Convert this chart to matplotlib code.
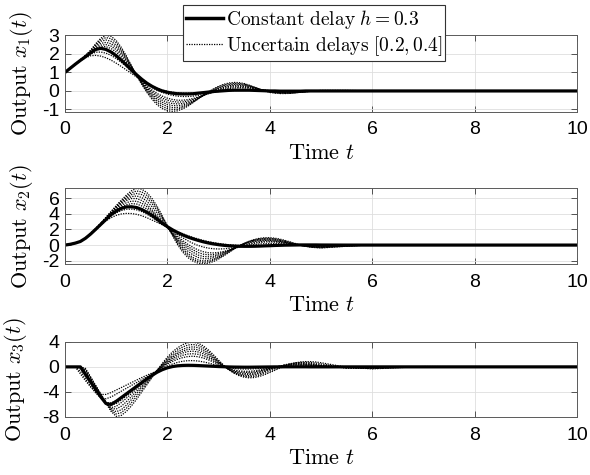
import matplotlib
matplotlib.use("Agg")
import matplotlib.pyplot as plt
from matplotlib.lines import Line2D

plt.rcParams['mathtext.fontset'] = 'cm'
plt.rcParams['axes.unicode_minus'] = False
plt.rcParams['font.family'] = ['Liberation Sans', 'DejaVu Sans']

# time grid (s)
t = [0.0, 0.1, 0.2, 0.3, 0.4, 0.5, 0.6, 0.7, 0.8, 0.9,
     1.0, 1.1, 1.2, 1.3, 1.4, 1.5, 1.6, 1.7, 1.8, 1.9,
     2.0, 2.1, 2.2, 2.3, 2.4, 2.5, 2.6, 2.7, 2.8, 2.9,
     3.0, 3.1, 3.2, 3.3, 3.4, 3.5, 3.6, 3.7, 3.8, 3.9,
     4.0, 4.1, 4.2, 4.3, 4.4, 4.5, 4.6, 4.7, 4.8, 4.9,
     5.0, 5.5, 6.0, 7.0, 10.0]

# ---------------- output x1 ----------------
x1_const = [1.0, 1.22, 1.44, 1.65, 1.85, 2.06, 2.24, 2.3, 2.24, 2.1,
            1.9, 1.66, 1.4, 1.13, 0.87, 0.63, 0.42, 0.25, 0.11, 0.0,
            -0.07, -0.12, -0.15, -0.16, -0.16, -0.15, -0.12, -0.09, -0.06, -0.03,
            -0.01, 0.01, 0.03, 0.04, 0.04, 0.04, 0.04, 0.03, 0.02, 0.01,
            0.0, 0.0, -0.01, -0.01, -0.01, -0.01, -0.01, 0.0, 0.0, 0.0,
            0.0, 0.0, 0.0, 0.0, 0.0]
x1_unc_a = [1.0, 1.22, 1.43, 1.62, 1.79, 1.9, 1.92, 1.88, 1.79, 1.66,
            1.5, 1.32, 1.13, 0.94, 0.75, 0.57, 0.41, 0.27, 0.15, 0.05,
            -0.02, -0.07, -0.1, -0.12, -0.12, -0.12, -0.1, -0.08, -0.06, -0.04,
            -0.02, 0.0, 0.01, 0.02, 0.03, 0.03, 0.03, 0.02, 0.02, 0.01,
            0.0, 0.0, -0.01, -0.01, -0.01, -0.01, -0.01, 0.0, 0.0, 0.0,
            0.0, 0.0, 0.0, 0.0, 0.0]
x1_unc_b = [1.0, 1.22, 1.43, 1.64, 1.83, 1.99, 2.09, 2.1, 2.04, 1.92,
            1.75, 1.54, 1.31, 1.04, 0.79, 0.56, 0.36, 0.18, 0.03, -0.08,
            -0.17, -0.24, -0.28, -0.3, -0.3, -0.28, -0.24, -0.19, -0.14, -0.08,
            -0.03, 0.02, 0.05, 0.08, 0.09, 0.1, 0.09, 0.08, 0.06, 0.04,
            0.02, 0.0, -0.01, -0.02, -0.03, -0.03, -0.03, -0.02, -0.02, -0.01,
            -0.01, 0.0, 0.0, 0.0, 0.0]
x1_unc_c = [1.0, 1.22, 1.44, 1.65, 1.85, 2.05, 2.22, 2.3, 2.27, 2.15,
            1.96, 1.72, 1.45, 1.15, 0.85, 0.55, 0.28, 0.05, -0.14, -0.28,
            -0.39, -0.46, -0.5, -0.5, -0.47, -0.41, -0.33, -0.24, -0.15, -0.06,
            0.02, 0.08, 0.13, 0.16, 0.18, 0.18, 0.16, 0.12, 0.08, 0.04,
            0.0, -0.03, -0.04, -0.05, -0.05, -0.05, -0.04, -0.03, -0.02, -0.01,
            0.0, 0.01, 0.0, 0.0, 0.0]
x1_unc_g = [1.0, 1.22, 1.44, 1.65, 1.86, 2.08, 2.28, 2.39, 2.39, 2.29,
            2.1, 1.84, 1.54, 1.2, 0.86, 0.52, 0.22, -0.03, -0.24, -0.39,
            -0.5, -0.57, -0.6, -0.59, -0.54, -0.46, -0.36, -0.24, -0.13, -0.03,
            0.06, 0.13, 0.18, 0.22, 0.22, 0.22, 0.18, 0.14, 0.08, 0.03,
            -0.02, -0.04, -0.06, -0.06, -0.06, -0.06, -0.04, -0.03, -0.02, 0.0,
            0.0, 0.01, 0.0, 0.0, 0.0]
x1_unc_d = [1.0, 1.22, 1.44, 1.66, 1.87, 2.1, 2.33, 2.47, 2.5, 2.42,
            2.23, 1.96, 1.62, 1.25, 0.87, 0.5, 0.17, -0.11, -0.33, -0.5,
            -0.62, -0.68, -0.7, -0.68, -0.61, -0.51, -0.39, -0.25, -0.12, 0.0,
            0.1, 0.18, 0.24, 0.27, 0.27, 0.25, 0.21, 0.15, 0.08, 0.02,
            -0.03, -0.06, -0.08, -0.08, -0.08, -0.07, -0.05, -0.03, -0.01, 0.0,
            0.01, 0.01, 0.0, 0.0, 0.0]
x1_unc_h = [1.0, 1.22, 1.44, 1.66, 1.88, 2.12, 2.39, 2.57, 2.62, 2.55,
            2.35, 2.05, 1.68, 1.27, 0.86, 0.46, 0.11, -0.19, -0.43, -0.61,
            -0.73, -0.79, -0.8, -0.76, -0.67, -0.55, -0.4, -0.25, -0.1, 0.03,
            0.14, 0.22, 0.28, 0.31, 0.31, 0.29, 0.24, 0.17, 0.09, 0.02,
            -0.04, -0.07, -0.09, -0.1, -0.1, -0.08, -0.06, -0.04, -0.02, 0.0,
            0.01, 0.01, 0.0, 0.0, 0.0]
x1_unc_e = [1.0, 1.22, 1.45, 1.67, 1.9, 2.15, 2.45, 2.68, 2.75, 2.68,
            2.47, 2.15, 1.75, 1.3, 0.85, 0.42, 0.05, -0.27, -0.53, -0.72,
            -0.84, -0.9, -0.9, -0.84, -0.73, -0.58, -0.41, -0.24, -0.08, 0.06,
            0.18, 0.27, 0.33, 0.36, 0.36, 0.33, 0.27, 0.19, 0.1, 0.02,
            -0.04, -0.08, -0.1, -0.11, -0.11, -0.09, -0.07, -0.04, -0.02, 0.0,
            0.02, 0.02, 0.0, 0.0, 0.0]
x1_unc_i = [1.0, 1.22, 1.45, 1.67, 1.91, 2.17, 2.5, 2.77, 2.88, 2.82,
            2.6, 2.25, 1.82, 1.33, 0.84, 0.39, -0.02, -0.36, -0.64, -0.84,
            -0.96, -1.0, -0.99, -0.9, -0.78, -0.6, -0.42, -0.24, -0.06, 0.08,
            0.22, 0.32, 0.38, 0.41, 0.4, 0.37, 0.29, 0.2, 0.1, 0.0,
            -0.06, -0.1, -0.12, -0.12, -0.12, -0.1, -0.07, -0.04, -0.02, 0.0,
            0.02, 0.02, 0.0, 0.0, 0.0]
x1_unc_f = [1.0, 1.22, 1.45, 1.68, 1.92, 2.2, 2.55, 2.85, 3.0, 2.95,
            2.72, 2.35, 1.88, 1.35, 0.82, 0.35, -0.08, -0.45, -0.75, -0.95,
            -1.07, -1.1, -1.07, -0.97, -0.82, -0.63, -0.43, -0.23, -0.05, 0.11,
            0.25, 0.36, 0.43, 0.46, 0.45, 0.4, 0.31, 0.2, 0.09, -0.01,
            -0.08, -0.12, -0.14, -0.14, -0.13, -0.1, -0.07, -0.04, -0.01, 0.01,
            0.03, 0.03, 0.0, 0.0, 0.0]

# ---------------- output x2 ----------------
x2_const = [0.0, 0.1, 0.25, 0.46, 0.87, 1.41, 2.02, 2.65, 3.28, 3.9,
            4.35, 4.7, 4.88, 4.9, 4.8, 4.55, 4.2, 3.8, 3.3, 2.8,
            2.35, 1.95, 1.6, 1.3, 1.03, 0.8, 0.6, 0.42, 0.27, 0.15,
            0.05, -0.03, -0.09, -0.13, -0.15, -0.16, -0.16, -0.15, -0.13, -0.1,
            -0.08, -0.05, -0.03, -0.01, 0.0, 0.01, 0.02, 0.02, 0.02, 0.02,
            0.01, 0.0, 0.0, 0.0, 0.0]
x2_unc_a = [0.0, 0.1, 0.24, 0.44, 0.85, 1.38, 1.95, 2.55, 3.1, 3.5,
            3.8, 3.98, 4.05, 4.03, 3.93, 3.75, 3.5, 3.2, 2.9, 2.6,
            2.3, 2.0, 1.72, 1.45, 1.2, 0.98, 0.78, 0.6, 0.45, 0.32,
            0.21, 0.12, 0.05, 0.0, -0.04, -0.06, -0.07, -0.07, -0.07, -0.06,
            -0.05, -0.04, -0.03, -0.02, -0.01, 0.0, 0.0, 0.0, 0.0, 0.0,
            0.0, 0.0, 0.0, 0.0, 0.0]
x2_unc_b = [0.0, 0.1, 0.25, 0.45, 0.86, 1.4, 2.0, 2.62, 3.22, 3.72,
            4.12, 4.42, 4.58, 4.6, 4.5, 4.28, 3.95, 3.55, 3.1, 2.65,
            2.25, 1.8, 1.35, 0.93, 0.55, 0.22, -0.05, -0.25, -0.39, -0.47,
            -0.5, -0.48, -0.42, -0.33, -0.23, -0.12, -0.02, 0.07, 0.14, 0.18,
            0.2, 0.2, 0.18, 0.14, 0.1, 0.05, 0.01, -0.03, -0.05, -0.07,
            -0.07, -0.02, 0.0, 0.0, 0.0]
x2_unc_c = [0.0, 0.1, 0.25, 0.46, 0.87, 1.41, 2.03, 2.68, 3.33, 3.92,
            4.42, 4.85, 5.15, 5.3, 5.25, 5.0, 4.6, 4.05, 3.45, 2.85,
            2.3, 1.7, 1.12, 0.58, 0.1, -0.3, -0.62, -0.85, -0.98, -1.0,
            -0.94, -0.82, -0.65, -0.45, -0.25, -0.06, 0.1, 0.23, 0.33, 0.39,
            0.4, 0.38, 0.33, 0.25, 0.16, 0.07, -0.02, -0.09, -0.13, -0.15,
            -0.15, -0.05, 0.01, 0.0, 0.0]
x2_unc_g = [0.0, 0.1, 0.25, 0.46, 0.88, 1.42, 2.05, 2.7, 3.38, 4.0,
            4.56, 5.05, 5.42, 5.62, 5.6, 5.35, 4.9, 4.28, 3.58, 2.9,
            2.25, 1.58, 0.94, 0.34, -0.18, -0.61, -0.95, -1.16, -1.24, -1.21,
            -1.09, -0.9, -0.66, -0.42, -0.18, 0.04, 0.22, 0.35, 0.44, 0.5,
            0.5, 0.46, 0.4, 0.3, 0.18, 0.08, -0.03, -0.11, -0.16, -0.18,
            -0.19, -0.06, 0.02, 0.0, 0.0]
x2_unc_d = [0.0, 0.1, 0.25, 0.46, 0.88, 1.43, 2.06, 2.73, 3.42, 4.08,
            4.7, 5.25, 5.7, 5.95, 5.95, 5.7, 5.2, 4.5, 3.7, 2.95,
            2.2, 1.45, 0.75, 0.1, -0.45, -0.92, -1.27, -1.46, -1.5, -1.42,
            -1.24, -0.98, -0.68, -0.38, -0.1, 0.14, 0.33, 0.47, 0.56, 0.6,
            0.6, 0.55, 0.46, 0.34, 0.21, 0.08, -0.04, -0.13, -0.19, -0.22,
            -0.23, -0.08, 0.02, 0.0, 0.0]
x2_unc_h = [0.0, 0.1, 0.25, 0.46, 0.88, 1.44, 2.07, 2.75, 3.46, 4.14,
            4.79, 5.38, 5.88, 6.2, 6.28, 6.08, 5.6, 4.9, 4.05, 3.18,
            2.3, 1.42, 0.6, -0.15, -0.78, -1.26, -1.58, -1.74, -1.74, -1.61,
            -1.38, -1.08, -0.74, -0.4, -0.1, 0.17, 0.38, 0.54, 0.64, 0.69,
            0.68, 0.63, 0.53, 0.4, 0.24, 0.1, -0.04, -0.14, -0.22, -0.25,
            -0.26, -0.1, 0.02, 0.0, 0.0]
x2_unc_e = [0.0, 0.1, 0.25, 0.47, 0.89, 1.44, 2.08, 2.77, 3.5, 4.2,
            4.88, 5.5, 6.05, 6.45, 6.6, 6.45, 6.0, 5.3, 4.4, 3.4,
            2.4, 1.4, 0.45, -0.4, -1.1, -1.6, -1.9, -2.02, -1.98, -1.8,
            -1.52, -1.17, -0.8, -0.43, -0.09, 0.2, 0.44, 0.62, 0.73, 0.78,
            0.77, 0.71, 0.6, 0.45, 0.28, 0.11, -0.04, -0.16, -0.24, -0.28,
            -0.3, -0.12, 0.03, 0.0, 0.0]
x2_unc_i = [0.0, 0.1, 0.25, 0.47, 0.9, 1.44, 2.09, 2.78, 3.52, 4.25,
            4.96, 5.62, 6.22, 6.7, 6.92, 6.8, 6.35, 5.62, 4.68, 3.58,
            2.42, 1.3, 0.25, -0.65, -1.35, -1.82, -2.11, -2.21, -2.15, -1.95,
            -1.65, -1.28, -0.88, -0.48, -0.1, 0.21, 0.47, 0.67, 0.8, 0.86,
            0.86, 0.8, 0.68, 0.52, 0.34, 0.16, -0.01, -0.15, -0.25, -0.3,
            -0.34, -0.14, 0.04, 0.0, 0.0]
x2_unc_f = [0.0, 0.1, 0.25, 0.47, 0.9, 1.45, 2.1, 2.8, 3.55, 4.3,
            5.05, 5.75, 6.4, 6.95, 7.25, 7.15, 6.7, 5.95, 4.95, 3.75,
            2.45, 1.2, 0.05, -0.9, -1.6, -2.05, -2.32, -2.4, -2.32, -2.1,
            -1.78, -1.38, -0.95, -0.52, -0.12, 0.22, 0.5, 0.72, 0.87, 0.94,
            0.94, 0.88, 0.76, 0.59, 0.4, 0.2, 0.02, -0.14, -0.26, -0.33,
            -0.37, -0.15, 0.05, 0.0, 0.0]

# ---------------- output x3 ----------------
x3_const = [0.0, 0.0, 0.0, 0.0, -1.2, -2.4, -3.6, -4.8, -5.85, -6.0,
            -5.5, -4.9, -4.3, -3.7, -3.1, -2.5, -1.9, -1.35, -0.85, -0.45,
            -0.15, 0.05, 0.17, 0.23, 0.25, 0.24, 0.21, 0.17, 0.13, 0.09,
            0.05, 0.02, -0.01, -0.03, -0.04, -0.05, -0.05, -0.04, -0.03, -0.02,
            -0.01, 0.0, 0.0, 0.01, 0.01, 0.01, 0.01, 0.01, 0.0, 0.0,
            0.0, 0.0, 0.0, 0.0, 0.0]
x3_unc_a = [0.0, 0.0, 0.0, -1.1, -2.2, -3.2, -4.0, -4.4, -4.4, -4.1,
            -3.7, -3.3, -2.9, -2.5, -2.1, -1.7, -1.33, -0.98, -0.65, -0.37,
            -0.14, 0.03, 0.14, 0.2, 0.22, 0.21, 0.18, 0.14, 0.1, 0.06,
            0.03, 0.0, -0.02, -0.03, -0.04, -0.04, -0.04, -0.03, -0.02, -0.01,
            0.0, 0.0, 0.0, 0.0, 0.0, 0.0, 0.0, 0.0, 0.0, 0.0,
            0.0, 0.0, 0.0, 0.0, 0.0]
x3_unc_b = [0.0, 0.0, 0.0, -0.7, -1.9, -3.1, -4.2, -4.95, -5.1, -4.8,
            -4.35, -3.88, -3.42, -2.95, -2.5, -2.03, -1.57, -1.1, -0.65, -0.22,
            0.15, 0.46, 0.72, 0.9, 0.99, 1.0, 0.93, 0.8, 0.62, 0.41,
            0.2, 0.0, -0.15, -0.26, -0.33, -0.35, -0.35, -0.31, -0.25, -0.18,
            -0.1, -0.03, 0.03, 0.08, 0.12, 0.14, 0.15, 0.14, 0.12, 0.09,
            0.06, -0.03, -0.03, 0.0, 0.0]
x3_unc_c = [0.0, 0.0, 0.0, -0.25, -1.45, -2.65, -3.85, -4.95, -5.7, -5.75,
            -5.4, -4.85, -4.25, -3.65, -3.05, -2.45, -1.85, -1.25, -0.62, -0.05,
            0.45, 0.88, 1.22, 1.48, 1.65, 1.7, 1.62, 1.42, 1.12, 0.76,
            0.38, 0.02, -0.28, -0.5, -0.64, -0.7, -0.7, -0.63, -0.5, -0.35,
            -0.19, -0.04, 0.09, 0.19, 0.26, 0.3, 0.3, 0.28, 0.23, 0.17,
            0.1, -0.08, -0.08, 0.0, 0.0]
x3_unc_g = [0.0, 0.0, 0.0, -0.1, -1.2, -2.42, -3.65, -4.82, -5.8, -6.12,
            -5.85, -5.28, -4.62, -3.95, -3.28, -2.6, -1.92, -1.28, -0.61, 0.02,
            0.6, 1.12, 1.54, 1.85, 2.05, 2.1, 2.0, 1.75, 1.38, 0.96,
            0.5, 0.06, -0.32, -0.6, -0.78, -0.87, -0.88, -0.8, -0.64, -0.45,
            -0.24, -0.06, 0.11, 0.24, 0.32, 0.37, 0.38, 0.35, 0.29, 0.22,
            0.13, -0.1, -0.11, 0.0, 0.0]
x3_unc_d = [0.0, 0.0, 0.0, 0.0, -0.95, -2.2, -3.45, -4.7, -5.9, -6.5,
            -6.3, -5.7, -5.0, -4.25, -3.5, -2.75, -2.0, -1.3, -0.6, 0.1,
            0.75, 1.35, 1.85, 2.22, 2.45, 2.5, 2.38, 2.08, 1.65, 1.15,
            0.62, 0.1, -0.35, -0.7, -0.93, -1.04, -1.05, -0.96, -0.78, -0.55,
            -0.3, -0.07, 0.13, 0.28, 0.39, 0.44, 0.45, 0.42, 0.35, 0.26,
            0.16, -0.13, -0.14, 0.01, 0.0]
x3_unc_h = [0.0, 0.0, 0.0, 0.0, -0.72, -1.98, -3.25, -4.52, -5.78, -6.65,
            -6.72, -6.28, -5.55, -4.72, -3.88, -3.02, -2.18, -1.38, -0.58, 0.2,
            0.92, 1.56, 2.1, 2.51, 2.78, 2.85, 2.73, 2.4, 1.92, 1.34,
            0.72, 0.12, -0.39, -0.79, -1.06, -1.2, -1.22, -1.13, -0.94, -0.68,
            -0.4, -0.12, 0.12, 0.31, 0.45, 0.53, 0.55, 0.52, 0.44, 0.34,
            0.22, -0.16, -0.18, 0.02, 0.0]
x3_unc_e = [0.0, 0.0, 0.0, 0.0, -0.5, -1.75, -3.05, -4.35, -5.65, -6.8,
            -7.15, -6.85, -6.1, -5.2, -4.25, -3.3, -2.35, -1.45, -0.55, 0.3,
            1.08, 1.78, 2.35, 2.8, 3.1, 3.2, 3.08, 2.72, 2.18, 1.52,
            0.82, 0.15, -0.43, -0.88, -1.2, -1.37, -1.4, -1.3, -1.1, -0.82,
            -0.5, -0.18, 0.1, 0.34, 0.51, 0.62, 0.65, 0.62, 0.54, 0.42,
            0.28, -0.2, -0.22, 0.02, 0.0]
x3_unc_i = [0.0, 0.0, 0.0, 0.0, -0.38, -1.68, -3.02, -4.38, -5.72, -6.95,
            -7.52, -7.3, -6.6, -5.7, -4.7, -3.65, -2.6, -1.58, -0.55, 0.42,
            1.32, 2.09, 2.7, 3.18, 3.48, 3.58, 3.43, 3.04, 2.44, 1.72,
            0.94, 0.2, -0.44, -0.94, -1.3, -1.51, -1.58, -1.5, -1.31, -1.03,
            -0.7, -0.36, -0.04, 0.24, 0.47, 0.63, 0.72, 0.73, 0.69, 0.6,
            0.47, -0.12, -0.27, 0.04, 0.0]
x3_unc_f = [0.0, 0.0, 0.0, 0.0, -0.25, -1.6, -3.0, -4.4, -5.8, -7.1,
            -7.9, -7.75, -7.1, -6.2, -5.15, -4.0, -2.85, -1.7, -0.55, 0.55,
            1.55, 2.4, 3.05, 3.55, 3.85, 3.95, 3.78, 3.35, 2.7, 1.92,
            1.07, 0.25, -0.45, -1.0, -1.4, -1.65, -1.75, -1.7, -1.52, -1.24,
            -0.9, -0.54, -0.18, 0.15, 0.43, 0.64, 0.78, 0.84, 0.84, 0.78,
            0.66, -0.05, -0.32, 0.05, 0.0]

ylabels = [r'$\mathrm{Output}\ x_1(t)$', r'$\mathrm{Output}\ x_2(t)$', r'$\mathrm{Output}\ x_3(t)$']
xlabel = r'$\mathrm{Time}\ t$'
legend_labels = [r'$\mathrm{Constant\ delay}\ h=0.3$', r'$\mathrm{Uncertain\ delays}\ [0.2,0.4]$']
xticks = [0, 2, 4, 6, 8, 10]
yticks = [[-1, 0, 1, 2, 3], [-2, 0, 2, 4, 6], [-8, -4, 0, 4]]
ylims = [(-1.12, 3.02), (-2.42, 7.3), (-8.05, 4.05)]

panels = [
    (x1_const, [x1_unc_a, x1_unc_b, x1_unc_c, x1_unc_g, x1_unc_d,
                x1_unc_h, x1_unc_e, x1_unc_i, x1_unc_f]),
    (x2_const, [x2_unc_a, x2_unc_b, x2_unc_c, x2_unc_g, x2_unc_d,
                x2_unc_h, x2_unc_e, x2_unc_i, x2_unc_f]),
    (x3_const, [x3_unc_a, x3_unc_b, x3_unc_c, x3_unc_g, x3_unc_d,
                x3_unc_h, x3_unc_e, x3_unc_i, x3_unc_f]),
]

W, H = 590, 475
fig = plt.figure(figsize=(W / 100, H / 100), dpi=100)
ax_left, ax_w = 65 / W, 512 / W
tops = [35, 188, 341.5]
bots = [111.7, 264, 417.3]
label_x = [-0.058, -0.058, -0.07]

dotted = (0, (1.0, 1.0))
edge = '#3a3a3a'
for i, (const, uncs) in enumerate(panels):
    ax = fig.add_axes([ax_left, 1 - bots[i] / H, ax_w, (bots[i] - tops[i]) / H])
    for u in uncs:
        ax.plot(t, u, color='k', lw=0.9, linestyle=dotted)
    ax.plot(t, const, color='k', lw=2.3, solid_capstyle='butt')
    ax.set_xlim(0, 10)
    ax.set_ylim(*ylims[i])
    ax.set_xticks(xticks)
    ax.set_yticks(yticks[i])
    ax.set_xticklabels([str(v) for v in xticks])
    ax.set_yticklabels([str(v) for v in yticks[i]])
    ax.grid(True, color='#dedede', lw=0.6)
    ax.set_axisbelow(True)
    ax.tick_params(direction='in', length=4, width=0.6, color=edge,
                   top=True, right=True, labelsize=14)
    ax.tick_params(axis='x', pad=7)
    ax.tick_params(axis='y', pad=4)
    for s in ax.spines.values():
        s.set_color('#5a5a5a')
        s.set_linewidth(0.7)
    ax.set_xlabel(xlabel, fontsize=16, labelpad=3)
    ax.set_ylabel(ylabels[i], fontsize=16)
    ax.yaxis.set_label_coords(label_x[i], 0.5)
    if i == 0:
        handles = [Line2D([], [], color='k', lw=2.5),
                   Line2D([], [], color='k', lw=0.9, linestyle=dotted)]
        leg = ax.legend(handles, legend_labels, loc='upper left',
                        bbox_to_anchor=(183 / W, 1 - 5 / H), bbox_transform=fig.transFigure,
                        fontsize=14, frameon=True, fancybox=False, framealpha=1,
                        edgecolor='#333333', handlelength=1.9, handletextpad=0.15,
                        borderpad=0.15, labelspacing=0.15, borderaxespad=0)
        leg.get_frame().set_linewidth(0.8)
        leg.set_zorder(10)

fig.savefig('out.png', dpi=100)
